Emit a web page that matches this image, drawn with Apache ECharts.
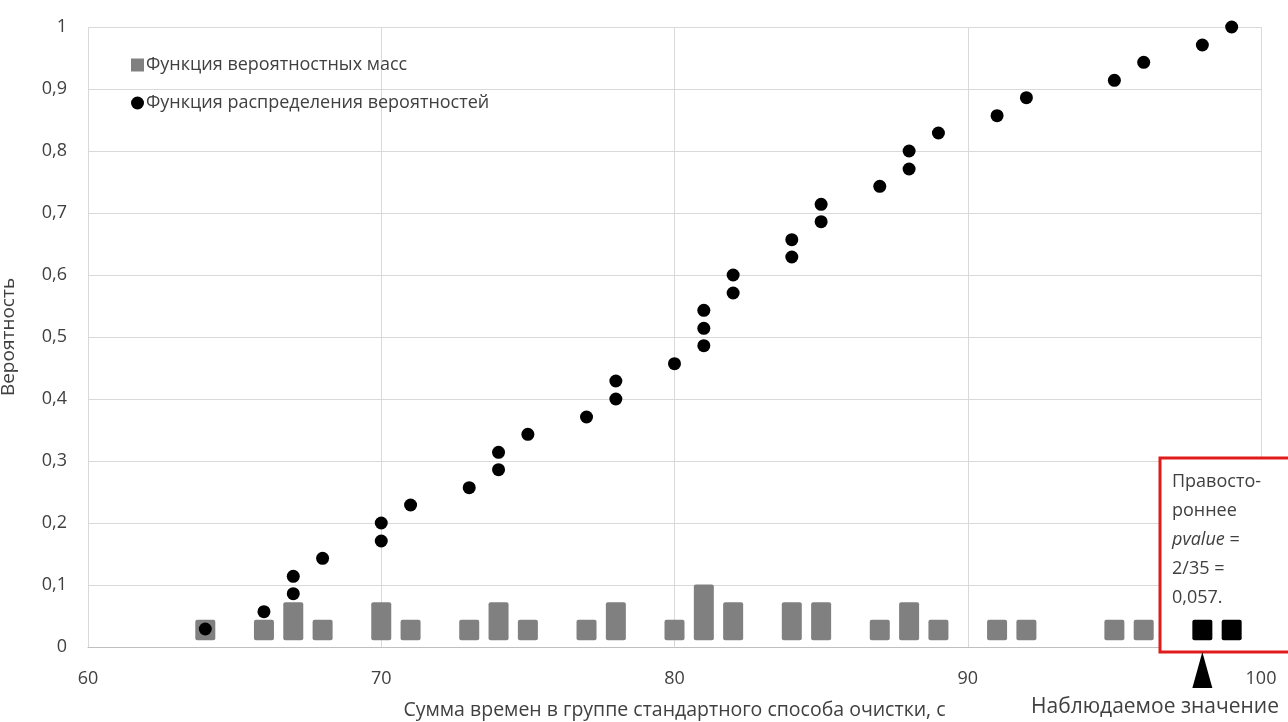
<!DOCTYPE html>
<html>
<head>
    <meta charset="utf-8">
    <title>ECharts</title>
    <script src="https://cdn.jsdelivr.net/npm/echarts@6/dist/echarts.min.js"></script>
</head>
<body style="background-color: #ffffff; margin:0px;">
    <div id="main" style="width: 1288px; height: 722px;"></div>
    <script type="text/javascript">
        // probability mass (bars)
        var pmfX   = [64, 66, 67, 68, 70, 71, 73, 74, 75, 77, 78, 80, 81, 82, 84, 85, 87, 88, 89, 91, 92, 95, 96, 98, 99];
        var pmfTop = [0.044, 0.044, 0.072, 0.044, 0.072, 0.044, 0.044, 0.072, 0.044, 0.044, 0.072, 0.044, 0.101, 0.072,
                      0.072, 0.072, 0.044, 0.072, 0.044, 0.044, 0.044, 0.044, 0.044, 0.044, 0.044];
        var pmfBase = 0.011;
        var observedX = [98, 99];

        // cumulative distribution (points)
        var cdfX = [64, 66, 67, 67, 68, 70, 70, 71, 73, 74, 74, 75, 77, 78, 78, 80, 81, 81, 81, 82, 82,
                    84, 84, 85, 85, 87, 88, 88, 89, 91, 92, 95, 96, 98, 99];
        var cdfY = [0.029, 0.057, 0.086, 0.114, 0.143, 0.171, 0.2, 0.229, 0.257, 0.286, 0.314, 0.343, 0.371,
                    0.4, 0.429, 0.457, 0.486, 0.514, 0.543, 0.571, 0.6, 0.629, 0.657, 0.686, 0.714, 0.743,
                    0.771, 0.8, 0.829, 0.857, 0.886, 0.914, 0.943, 0.971, 1.0];

        var FONT = 'Open Sans';
        var TXT = '#404040';

        var massData = [], cdfData = [];
        for (var i = 0; i < pmfX.length; i++) {
            massData.push([pmfX[i], pmfBase, pmfTop[i]]);
        }
        for (var j = 0; j < cdfX.length; j++) {
            cdfData.push([cdfX[j], cdfY[j]]);
        }

        // bars that float a little above the axis, as in the original
        function renderMass(params, api) {
            var x = api.value(0);
            var lo = api.coord([x, api.value(1)]);
            var hi = api.coord([x, api.value(2)]);
            var isObserved = observedX.indexOf(x) >= 0;
            return {
                type: 'rect',
                shape: { x: hi[0] - 10, y: hi[1], width: 20, height: lo[1] - hi[1], r: 2 },
                style: { fill: isObserved ? '#000000' : '#808080' }
            };
        }

        var myChart = echarts.init(document.getElementById('main'));
        var option = {
            animation: false,
            textStyle: { fontFamily: FONT },
            grid: { left: 88, right: 27, top: 27, bottom: 75, containLabel: false, outerBoundsMode: 'none' },
            legend: {
                orient: 'vertical',
                left: 126,
                top: 51,
                itemWidth: 13,
                itemHeight: 13,
                itemGap: 20,
                textStyle: { fontFamily: FONT, fontSize: 18, color: TXT, padding: [0, 0, 0, -3] },
                data: [
                    { name: 'Функция вероятностных масс', icon: 'rect', itemStyle: { color: '#808080' } },
                    { name: 'Функция распределения вероятностей', icon: 'circle', itemStyle: { color: '#000000' } }
                ]
            },
            xAxis: {
                type: 'value',
                min: 60,
                max: 100,
                interval: 10,
                name: 'Сумма времен в группе стандартного способа очистки, с',
                nameLocation: 'middle',
                nameGap: 53,
                nameTextStyle: { fontFamily: FONT, fontSize: 19.5, color: TXT },
                axisLine: { show: true, lineStyle: { color: '#bfbfbf', width: 1 } },
                axisTick: { show: false },
                axisLabel: { fontFamily: FONT, fontSize: 18, color: TXT, margin: 23 },
                splitLine: { show: true, lineStyle: { color: '#d9d9d9' } }
            },
            yAxis: {
                type: 'value',
                min: 0,
                max: 1,
                interval: 0.1,
                name: 'Вероятность',
                nameLocation: 'middle',
                nameGap: 70,
                nameTextStyle: { fontFamily: FONT, fontSize: 19, color: TXT },
                axisLine: { show: false },
                axisTick: { show: false },
                axisLabel: {
                    fontFamily: FONT, fontSize: 18, color: TXT, margin: 21,
                    formatter: function (v) { return String(+v.toFixed(1)).replace('.', ','); }
                },
                splitLine: { show: true, lineStyle: { color: '#d9d9d9' } }
            },
            series: [
                {
                    name: 'Функция вероятностных масс',
                    type: 'custom',
                    renderItem: renderMass,
                    encode: { x: 0, y: [1, 2] },
                    itemStyle: { color: '#808080' },
                    data: massData
                },
                {
                    name: 'Функция распределения вероятностей',
                    type: 'scatter',
                    symbol: 'circle',
                    symbolSize: 13,
                    itemStyle: { color: '#000000', opacity: 1 },
                    z: 5,
                    data: cdfData
                }
            ]
        };
        myChart.setOption(option);

        // annotation: observed value marker and the p-value box
        var p = myChart.convertToPixel({ xAxisIndex: 0, yAxisIndex: 0 }, [98, 0]);
        myChart.setOption({
            graphic: [
                {
                    type: 'rect',
                    z: 1,
                    shape: { x: 1160, y: 458, width: 140, height: 194 },
                    style: { fill: '#ffffff', stroke: '#e01b1b', lineWidth: 3 }
                },
                {
                    type: 'text',
                    z: 2,
                    x: 1172,
                    y: 467,
                    style: {
                        text: 'Правосто-\nроннее\n{i|pvalue} =\n2/35 =\n0,057.',
                        font: '18px "' + FONT + '"',
                        fill: TXT,
                        lineHeight: 29,
                        rich: { i: { fontStyle: 'italic', fontFamily: FONT, fontSize: 18, fill: TXT, lineHeight: 29 } }
                    }
                },
                {
                    type: 'polygon',
                    z: 10,
                    shape: { points: [[p[0], p[1] + 5], [p[0] - 10, p[1] + 41], [p[0] + 10, p[1] + 41]] },
                    style: { fill: '#000000' }
                },
                {
                    type: 'text',
                    x: 1031,
                    y: 697,
                    style: { text: 'Наблюдаемое значение', font: '21px "' + FONT + '"', fill: TXT }
                }
            ]
        });
    </script>
</body>
</html>
